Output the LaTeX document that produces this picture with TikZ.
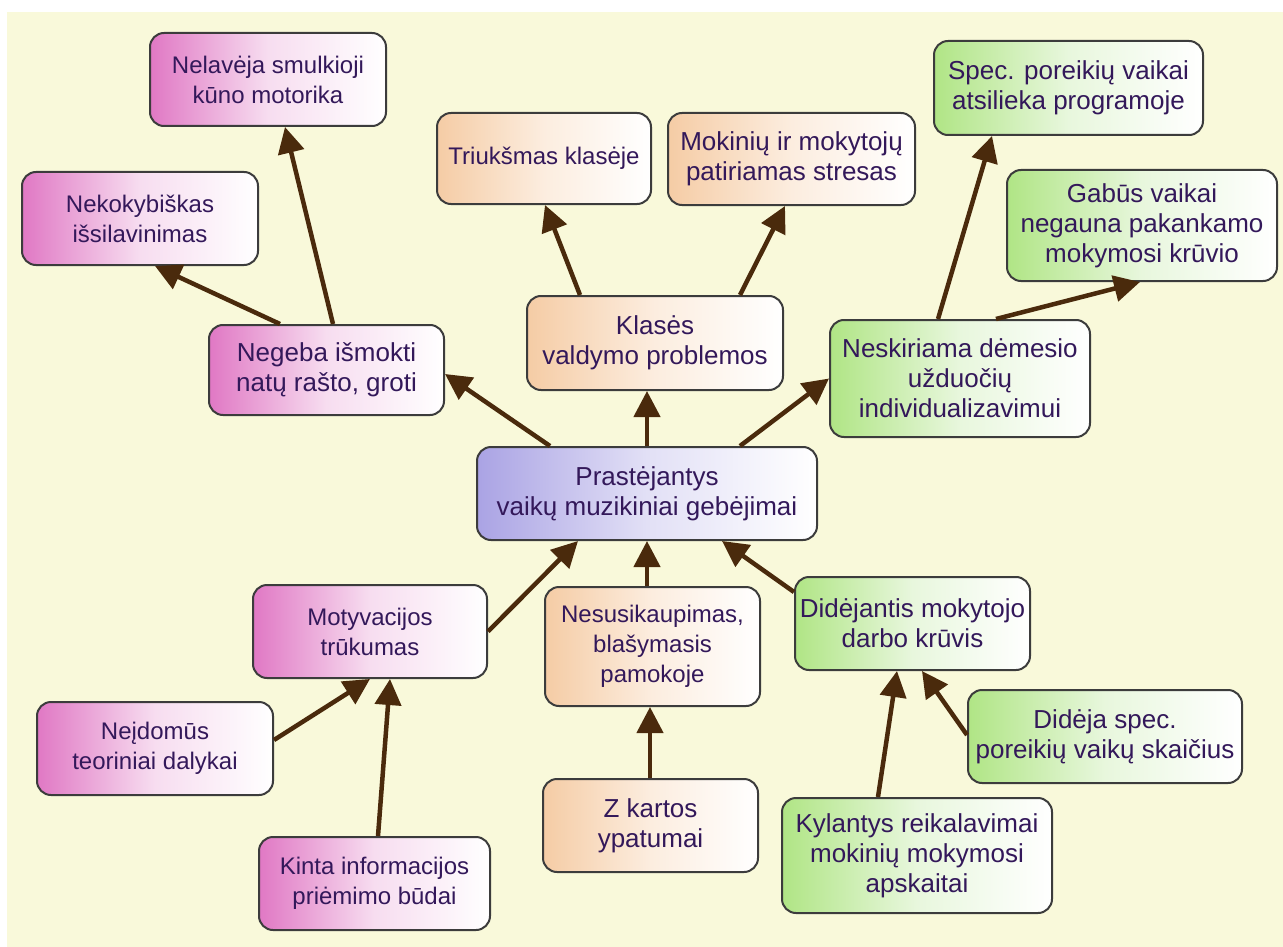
\documentclass[tikz,border=0pt]{standalone}
\usepackage{fontspec}
\setmainfont{Liberation Sans}
\usetikzlibrary{arrows.meta}

\definecolor{bgyellow}{HTML}{F9F9DA}
\definecolor{boxline}{HTML}{3C3C3C}
\definecolor{txt}{HTML}{33185A}
\definecolor{arrowbrown}{HTML}{4A2A0C}
\definecolor{pinkL}{HTML}{E078C4}
\definecolor{pinkM}{HTML}{F7DDF0}
\definecolor{peachL}{HTML}{F5CCA5}
\definecolor{peachM}{HTML}{FCEDDF}
\definecolor{greenL}{HTML}{B0E585}
\definecolor{greenM}{HTML}{E8F7DD}
\definecolor{lavL}{HTML}{AAA3E4}
\definecolor{lavM}{HTML}{E2E0F6}

\tikzset{
  box/.style={draw=boxline, line width=2pt, rounded corners=14pt,
    align=center, text=txt, inner sep=0pt,
    font=\fontsize{26}{30}\selectfont},
  pinkbox/.style={box, left color=pinkL, right color=white, middle color=pinkM},
  peachbox/.style={box, left color=peachL, right color=white, middle color=peachM},
  greenbox/.style={box, left color=greenL, right color=white, middle color=greenM},
  lavbox/.style={box, left color=lavL, right color=white, middle color=lavM},
  sz/.style 2 args={minimum width=#1pt, minimum height=#2pt},
  small/.style={font=\fontsize{24}{30}\selectfont},
  arr/.style={draw=arrowbrown, line width=4.5pt,
    -{Triangle[length=26pt,width=26pt]}, arrowbrown}
}

\begin{document}
\begin{tikzpicture}[x=1pt,y=-1pt]
  % page and background
  \path[use as bounding box] (0,0) rectangle (1283,947);
  \fill[white] (0,0) rectangle (1283,947);
  \fill[bgyellow] (7,12) rectangle (1283,947);

  % central node
  \node[lavbox, sz={340}{93}] (n10) at (647,493.5)
    {Prastėjantys\\vaikų muzikiniai gebėjimai};

  % upper left branch
  \node[pinkbox, sz={235}{90}] (n7) at (326.5,370) {Negeba išmokti\\natų rašto, groti};
  \node[pinkbox, sz={236}{93}, small] (n1) at (268,79.5) {Nelavėja smulkioji\\kūno motorika};
  \node[pinkbox, sz={236}{93}, small] (n2) at (140,218.5) {Nekokybiškas\\išsilavinimas};

  % upper middle branch
  \node[peachbox, sz={256}{94}] (n8) at (655,343) {Klasės\\valdymo problemos};
  \node[peachbox, sz={214}{91}, small] (n3) at (544,158.5) {Triukšmas klasėje};
  \node[peachbox, sz={247}{92}] (n4) at (791.5,159) {Mokinių ir mokytojų\\patiriamas stresas};

  % upper right branch
  \node[greenbox, sz={260}{117}] (n9) at (960,378.5) {Neskiriama dėmesio\\užduočių\\individualizavimui};
  \node[greenbox, sz={269}{94}] (n5) at (1068.5,88) {Spec. poreikių vaikai\\atsilieka programoje};
  \node[greenbox, sz={270}{111}] (n6) at (1142,225.5) {Gabūs vaikai\\negauna pakankamo\\mokymosi krūvio};

  % lower left branch
  \node[pinkbox, sz={234}{93}, small] (n11) at (370,631.5) {Motyvacijos\\trūkumas};
  \node[pinkbox, sz={236}{93}, small] (n14) at (155,748.5) {Neįdomūs\\teoriniai dalykai};
  \node[pinkbox, sz={231}{93}, small] (n15) at (374.5,883.5) {Kinta informacijos\\priėmimo būdai};

  % lower middle branch
  \node[peachbox, sz={215}{119}, small] (n12) at (652.5,646.5) {Nesusikaupimas,\\blašymasis\\pamokoje};
  \node[peachbox, sz={215}{93}] (n16) at (650.5,825.5) {Z kartos\\ypatumai};

  % lower right branch
  \node[greenbox, sz={235}{93}] (n13) at (912.5,623.5) {Didėjantis mokytojo\\darbo krūvis};
  \node[greenbox, sz={274}{93}] (n17) at (1105,736.5) {Didėja spec.\\poreikių vaikų skaičius};
  \node[greenbox, sz={270}{115}] (n18) at (917,855.5) {Kylantys reikalavimai\\mokinių mokymosi\\apskaitai};

  % connectors
  \draw[arr] ([xshift=6.5pt]n7.north) -- ([xshift=17pt]n1.south);
  \draw[arr] ([xshift=-46.5pt]n7.north) -- ([xshift=15pt]n2.south);
  \draw[arr] ([xshift=-97pt]n10.north) -- ([yshift=-4pt]n7.east);
  \draw[arr] (n10.north) -- ([xshift=-8pt]n8.south);
  \draw[arr] ([xshift=93pt]n10.north) -- (n9.west);
  \draw[arr] ([xshift=-75pt]n8.north) -- ([xshift=1pt]n3.south);
  \draw[arr] ([xshift=85pt]n8.north) -- ([xshift=-6.5pt]n4.south);
  \draw[arr] ([xshift=-22pt]n9.north) -- ([xshift=-76.5pt]n5.south);
  \draw[arr] ([xshift=36pt]n9.north) -- ([xshift=-2pt]n6.south);
  \draw[arr] (n11.east) -- ([xshift=-69pt]n10.south);
  \draw[arr] ([xshift=-5.5pt]n12.north) -- (n10.south);
  \draw[arr] ([yshift=31.5pt]n13.west) -- ([xshift=75pt]n10.south);
  \draw[arr] ([xshift=-0.5pt]n16.north) -- ([xshift=-2.5pt]n12.south);
  \draw[arr] ([yshift=8.5pt]n14.east) -- (n11.south);
  \draw[arr] ([xshift=3.5pt]n15.north) -- ([xshift=20pt]n11.south);
  \draw[arr] ([xshift=-39pt]n18.north) -- ([xshift=-15.5pt]n13.south);
  \draw[arr] ([yshift=1.5pt]n17.west) -- ([xshift=9.5pt]n13.south);
\end{tikzpicture}
\end{document}
